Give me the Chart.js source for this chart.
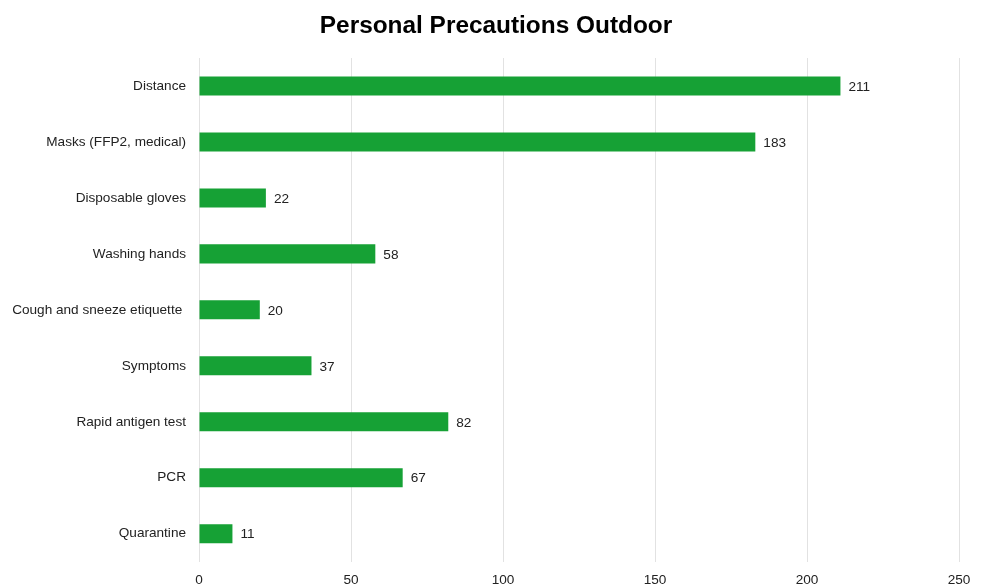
<!DOCTYPE html>
<html>
<head>
<meta charset="utf-8">
<script src="https://cdn.jsdelivr.net/npm/chart.js@4"></script>
<style>
  html, body { margin: 0; padding: 0; background: #fff; }
  #wrap { width: 981px; height: 586px; }
</style>
</head>
<body>
<div id="wrap"><canvas id="chart"></canvas></div>
<script>
// data
const categories = ['Distance', 'Masks (FFP2, medical)', 'Disposable gloves', 'Washing hands',
  'Cough and sneeze etiquette ', 'Symptoms', 'Rapid antigen test', 'PCR', 'Quarantine'];
const counts = [211, 183, 22, 58, 20, 37, 82, 67, 11];
const xTicks = [0, 50, 100, 150, 200, 250];
const chartTitle = 'Personal Precautions Outdoor';

const FONT = '"Liberation Sans", Arial, sans-serif';

// writes the value just past the end of each bar
const valueLabels = {
  id: 'valueLabels',
  afterDatasetsDraw(chart) {
    const ctx = chart.ctx;
    const meta = chart.getDatasetMeta(0);
    ctx.save();
    ctx.font = '13.6px ' + FONT;
    ctx.fillStyle = '#222';
    ctx.textAlign = 'left';
    ctx.textBaseline = 'middle';
    meta.data.forEach(function(bar, i) {
      ctx.fillText(String(counts[i]), bar.x + 8, bar.y + 1);
    });
    ctx.restore();
  }
};

// title is centred a bit right of the canvas middle in the original
const titleText = {
  id: 'titleText',
  afterDraw(chart) {
    const ctx = chart.ctx;
    ctx.save();
    ctx.font = 'bold 24.4px ' + FONT;
    ctx.fillStyle = '#000';
    ctx.textAlign = 'center';
    ctx.textBaseline = 'middle';
    ctx.fillText(chartTitle, 496, 26);
    ctx.restore();
  }
};

document.addEventListener("DOMContentLoaded", function() {
  const ctx = document.getElementById('chart').getContext('2d');
  new Chart(ctx, {
    type: 'bar',
    data: {
      labels: categories,
      datasets: [{
        label: 'Count',
        data: counts,
        backgroundColor: '#16a135',
        borderWidth: 0,
        barPercentage: 0.34,
        categoryPercentage: 1
      }]
    },
    plugins: [valueLabels, titleText],
    options: {
      indexAxis: 'y',
      responsive: true,
      maintainAspectRatio: false,
      animation: false,
      layout: { padding: { left: 8, right: 22, top: 58, bottom: -12 } },
      plugins: {
        legend: { display: false },
        tooltip: { enabled: false },
        title: { display: false }
      },
      scales: {
        x: {
          min: 0,
          max: 250,
          afterBuildTicks: function(axis) {
            axis.ticks = xTicks.map(function(v) { return { value: v }; });
          },
          grid: { color: '#e2e2e2', drawTicks: false },
          border: { display: false },
          ticks: {
            color: '#222',
            padding: 10,
            font: { family: FONT, size: 13.6 }
          }
        },
        y: {
          afterFit: function(axis) { axis.width = 191; },
          grid: { display: false, drawTicks: false },
          border: { display: false },
          ticks: {
            color: '#222',
            padding: 13,
            font: { family: FONT, size: 13.6 }
          }
        }
      }
    }
  });
});
</script>
</body>
</html>
